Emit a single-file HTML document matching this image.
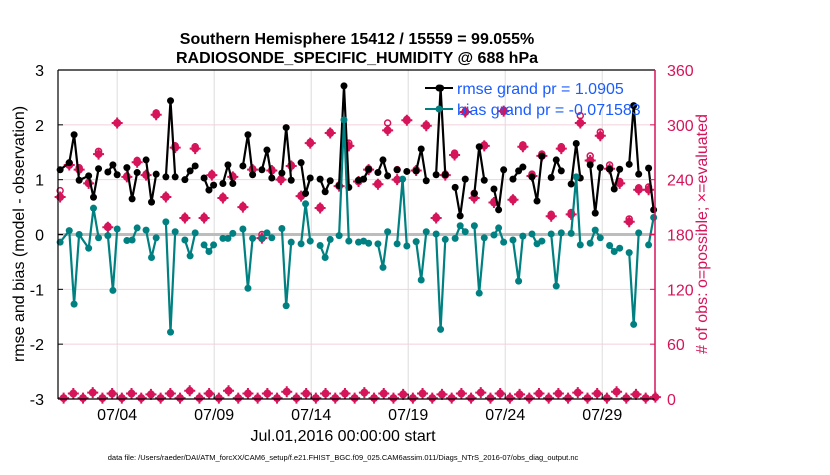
<!DOCTYPE html>
<html><head><meta charset="utf-8"><style>
body{margin:0;background:#fff;width:830px;height:470px;overflow:hidden;font-family:"Liberation Sans",sans-serif}
svg text{font-family:"Liberation Sans",sans-serif}
</style></head><body>
<svg id="chart" width="830" height="470" viewBox="0 0 830 470" xmlns="http://www.w3.org/2000/svg">
<text x="357" y="44" text-anchor="middle" font-size="16" font-weight="bold">Southern Hemisphere 15412 / 15559 = 99.055%</text>
<text x="357" y="63" text-anchor="middle" font-size="16" font-weight="bold">RADIOSONDE_SPECIFIC_HUMIDITY @ 688 hPa</text>
<g id="grid"></g><g id="marks"></g><g id="axes"></g>
<text transform="translate(24,234) rotate(-90)" text-anchor="middle" font-size="16">rmse and bias (model - observation)</text>
<text transform="translate(707,234) rotate(-90)" text-anchor="middle" font-size="16" fill="#d6145a"># of obs: o=possible; ×=evaluated</text>
<text x="343" y="441" text-anchor="middle" font-size="16">Jul.01,2016 00:00:00 start</text>
<text x="343" y="460" text-anchor="middle" font-size="7.5">data file: /Users/raeder/DAI/ATM_forcXX/CAM6_setup/f.e21.FHIST_BGC.f09_025.CAM6assim.011/Diags_NTrS_2016-07/obs_diag_output.nc</text>
<g id="legend">
<line x1="425" y1="88" x2="453" y2="88" stroke="#000" stroke-width="2"/><circle cx="439" cy="88" r="3.5" fill="#000"/>
<text x="457" y="94" font-size="16" fill="#1a5cff">rmse grand pr = 1.0905</text>
<line x1="425" y1="109" x2="453" y2="109" stroke="#008080" stroke-width="2"/><circle cx="439" cy="109" r="3.5" fill="#008080"/>
<text x="457" y="115" font-size="16" fill="#1a5cff">bias grand pr = -0.071583</text>
</g>
</svg>
<script>
const times=[0.06,0.53,0.78,1.04,1.53,1.78,2.04,null,2.52,2.78,3.0,null,3.5,3.77,4.03,null,4.49,4.77,5.01,null,5.51,5.75,5.99,null,6.49,6.76,7.02,null,7.48,7.73,7.97,null,8.45,8.71,8.96,null,9.48,9.74,9.98,null,10.46,10.72,10.97,null,11.49,11.71,11.97,null,12.48,12.71,12.95,null,13.46,13.72,13.98,null,14.44,14.69,14.94,null,15.44,15.7,15.96,null,16.44,16.7,16.94,null,17.43,17.71,17.93,null,18.41,18.67,18.93,null,19.44,19.67,19.91,null,20.42,20.68,20.94,null,21.41,21.66,21.92,null,22.42,22.66,22.92,null,23.4,23.69,23.91,null,24.38,24.64,24.89,null,25.37,25.63,25.89,null,26.4,26.66,26.87,null,27.38,27.64,27.9,null,28.38,28.62,28.9,null,29.39,29.62,29.88,null,30.39,30.65];
const rmse=[1.18,1.31,1.82,0.99,1.07,0.68,1.2,null,1.14,1.27,1.09,null,1.22,0.65,1.13,null,1.36,0.59,1.1,null,1.05,2.44,1.05,null,1.0,1.16,1.25,null,1.03,0.81,0.9,null,0.93,1.27,0.93,null,1.25,1.82,1.09,null,1.18,1.54,1.03,null,1.12,1.95,0.99,null,1.31,0.75,1.03,null,1.01,0.78,0.98,null,0.89,2.71,0.86,null,0.99,1.01,1.19,null,1.13,1.36,1.07,null,1.18,null,1.15,null,1.16,1.56,0.98,null,1.09,2.67,1.09,null,0.86,0.34,1.01,null,0.75,1.6,0.99,null,0.83,0.45,1.18,null,1.01,1.16,1.23,null,1.05,0.61,1.43,null,1.04,1.36,1.16,null,0.92,1.66,1.03,null,1.27,0.39,1.22,null,1.19,0.83,1.19,null,1.28,2.35,1.1,null,1.21,0.45];
const bias=[-0.14,0.07,-1.27,0.0,-0.25,0.48,-0.06,null,-0.02,-1.02,0.1,null,-0.11,-0.1,0.12,null,0.08,-0.42,-0.06,null,0.23,-1.78,0.05,null,-0.1,-0.39,0.03,null,-0.19,-0.31,-0.19,null,-0.07,-0.07,0.02,null,0.1,-0.98,-0.07,null,-0.07,0.03,-0.06,null,0.11,-1.3,-0.14,null,-0.17,0.56,-0.12,null,-0.2,-0.42,-0.09,null,-0.02,2.09,-0.12,null,-0.14,-0.12,-0.16,null,-0.17,-0.6,0.05,null,-0.17,1.01,-0.21,null,-0.13,-0.83,0.05,null,0.01,-1.73,-0.09,null,-0.07,0.16,0.05,null,0.16,-1.07,-0.06,null,-0.01,0.12,-0.14,null,-0.1,-0.85,-0.03,null,0.01,-0.17,-0.12,null,0.01,-0.94,0.03,null,0.02,1.05,-0.19,null,-0.16,0.08,-0.06,null,-0.2,-0.31,-0.25,null,-0.33,-1.64,0.03,null,-0.19,0.31];
const obsDays=[0.06,0.53,1.04,1.53,2.04,2.52,3.0,3.5,4.03,4.49,5.01,5.51,5.99,6.49,7.02,7.48,7.88,8.45,8.96,9.48,9.98,10.46,10.97,11.44,11.97,12.48,12.95,13.46,13.98,14.44,14.94,15.44,15.96,16.44,16.94,17.43,17.93,18.41,18.93,19.44,19.91,20.39,20.94,21.4,21.92,22.42,22.92,23.4,23.91,24.38,24.89,25.37,25.89,26.4,26.87,27.38,27.9,28.38,28.9,29.39,29.88,30.39];
const obsEvaluated=[221,256,251,236,268,188,302,243,259,245,311,221,275,198,274,198,245,220,243,210,251,176,250,240,255,222,280,209,291,233,277,238,251,235,294,240,305,250,299,198,245,267,314,220,277,215,315,218,276,244,266,200,274,202,302,261,288,252,236,194,229,229];
const obsPossible=[228,258,253,237,271,189,302,244,261,246,313,222,277,199,276,199,246,221,244,211,252,180,251,241,256,223,281,210,292,234,280,239,252,236,302,251,306,251,300,199,246,269,315,225,278,216,316,219,278,246,268,202,276,204,310,266,292,256,238,197,231,232];
const lowDays=Array.from({length:62},(_,k)=>0.24+0.5*k);
const lowCounts=[1,6,1,7,1,6,1,6,1,5,1,6,1,9,1,6,1,9,1,6,1,6,1,8,1,6,1,6,1,6,1,7,1,6,1,5,1,6,1,5,1,6,1,7,1,6,1,5,1,6,1,6,1,7,1,6,1,8,1,5,1,2];
const yTicks=[-3,-2,-1,0,1,2,3];
const y2Ticks=[0,60,120,180,240,300,360];
const xTickDays=[3,8,13,18,23,28];
const xTickLabels=["07/04","07/09","07/14","07/19","07/24","07/29"];

const L=58,R=655,T=70,B=399,D0=-0.05,D1=30.72;
const xs=d=>L+(d-D0)/(D1-D0)*(R-L);
const ys=v=>B-(v+3)/6*(B-T);
const ys2=n=>B-n/360*(B-T);
const NS="http://www.w3.org/2000/svg";
function mk(tag,attrs,parent){const e=document.createElementNS(NS,tag);for(const k in attrs)e.setAttribute(k,attrs[k]);parent.appendChild(e);return e;}
const grid=document.getElementById('grid'),marks=document.getElementById('marks'),axes=document.getElementById('axes');
xTickDays.forEach((d,i)=>{
  const g=mk('line',{x1:xs(d),x2:xs(d),y1:T,y2:B,stroke:'#dcdcdc','stroke-width':1},grid);
  
  
  const t=mk('text',{x:xs(d),y:420,'text-anchor':'middle','font-size':16},axes);t.textContent=xTickLabels[i];
  
  
  mk('line',{x1:xs(d),x2:xs(d),y1:B,y2:B-5,stroke:'#000'},axes);
});
yTicks.forEach(v=>{
  if(v!==0&&v!==-3&&v!==3){const g=mk('line',{x1:L,x2:R,y1:ys(v),y2:ys(v),stroke:'#f4d0dc','stroke-width':1},grid);
  
  }
  const t=mk('text',{x:44,y:ys(v)+6,'text-anchor':'end','font-size':16},axes);t.textContent=v;
  
  
  mk('line',{x1:L,x2:L+5,y1:ys(v),y2:ys(v),stroke:'#000'},axes);
});
const z=mk('line',{x1:L,x2:R,y1:ys(0),y2:ys(0),stroke:'#bdbdbd','stroke-width':3},grid);


y2Ticks.forEach(n=>{
  const t=mk('text',{x:667,y:ys2(n)+6,'font-size':16,fill:'#d6145a'},axes);t.textContent=n;
  
  
  mk('line',{x1:R,x2:R-5,y1:ys2(n),y2:ys2(n),stroke:'#d6145a'},axes);
});
mk('line',{x1:L,x2:R,y1:T,y2:T,stroke:'#000','stroke-width':1.2},axes);
mk('line',{x1:L,x2:R,y1:B,y2:B,stroke:'#000','stroke-width':1.2},axes);
mk('line',{x1:L,x2:L,y1:T,y2:B,stroke:'#000','stroke-width':1.2},axes);
mk('line',{x1:R,x2:R,y1:T,y2:B,stroke:'#d6145a','stroke-width':1.5},axes);

function star(x,y,parent,name){
  const g=mk('g',{},parent);
  
  
  mk('circle',{cx:x,cy:y,r:4,fill:'#d6145a'},g);
  mk('path',{d:`M${x-5.5} ${y}H${x+5.5}M${x} ${y-5.5}V${y+5.5}`,stroke:'#d6145a','stroke-width':2},g);
}
obsDays.forEach((d,i)=>{
  const c=mk('circle',{cx:xs(d),cy:ys2(obsPossible[i]),r:3,fill:'none',stroke:'#d6145a','stroke-width':1.5},marks);
  
  
  star(xs(d),ys2(obsEvaluated[i]),marks,'obs-evaluated-marker');
});
lowDays.forEach((d,i)=>{star(xs(d),ys2(lowCounts[i]),marks,'obs-low-count-marker');});

function series(vals,color,name){
  let p='',pen=false;
  times.forEach((t,i)=>{const v=vals[i];if(t===null||v===null){pen=false;return;}p+=(pen?'L':'M')+xs(t).toFixed(1)+' '+ys(v).toFixed(1);pen=true;});
  const path=mk('path',{d:p,fill:'none',stroke:color,'stroke-width':2.2,'stroke-linejoin':'round'},marks);
  
  
  times.forEach((t,i)=>{const v=vals[i];if(t===null||v===null)return;
    const c=mk('circle',{cx:xs(t),cy:ys(v),r:3.5,fill:color},marks);
    
    });
}
series(rmse,'#000','rmse');
series(bias,'#008080','bias');
</script>
</body></html>
